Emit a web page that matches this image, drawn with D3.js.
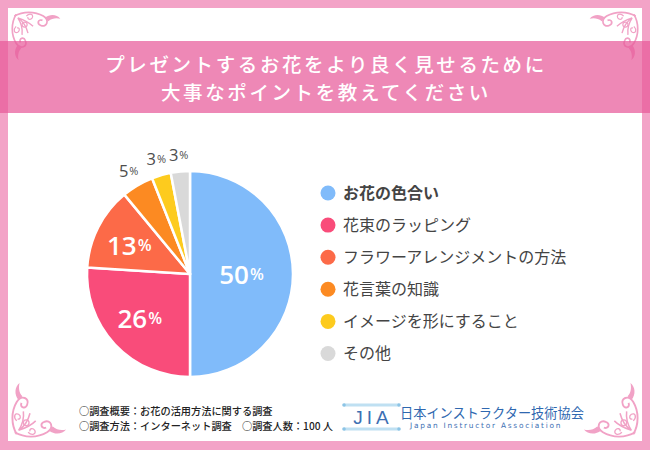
<!DOCTYPE html>
<html>
<head>
<meta charset="utf-8">
<script src="https://cdn.jsdelivr.net/npm/d3@7"></script>
<style>
  html, body { margin: 0; padding: 0; background: #fff; }
  svg { display: block; }
</style>
</head>
<body>
<div id="chart"></div>
<script>
// data
const categories = ["お花の色合い", "花束のラッピング", "フラワーアレンジメントの方法", "花言葉の知識", "イメージを形にすること", "その他"];
const values = [50, 26, 13, 5, 3, 3];
const palette = ["#80bbfa", "#f94c7a", "#fc6a48", "#fc8a22", "#fdcb1e", "#d9d9d9"];
const titleLines = ["プレゼントするお花をより良く見せるために", "大事なポイントを教えてください"];
const notes = ["○調査概要：お花の活用方法に関する調査", "○調査方法：インターネット調査　○調査人数：100 人"];

const W = 650, H = 450;
const jp = "'Noto Sans CJK JP', 'Noto Sans', sans-serif";
const num = "'Open Sans', 'Noto Sans', sans-serif";

const svg = d3.select("#chart").append("svg")
	.attr("width", W)
	.attr("height", H);

// frame
svg.append("rect").attr("width", W).attr("height", H).attr("fill", "#f3a3c7");
svg.append("rect").attr("x", 8).attr("y", 8).attr("width", W - 16).attr("height", H - 17).attr("fill", "#fff");

// corner flourishes
function flourish(g) {
	let c = "#f1a2c6";
	g.append("path").attr("d", "M4,6 C14,0 28,0 38,6 C46,11 42,20 35,17 C30,15 32,9 37,11")
		.attr("fill", "none").attr("stroke", c).attr("stroke-width", 2);
	g.append("path").attr("d", "M6,4 C0,14 0,28 6,38 C11,46 20,42 17,35 C15,30 9,32 11,37")
		.attr("fill", "none").attr("stroke", c).attr("stroke-width", 2);
	g.append("path").attr("d", "M8,8 C14,12 18,18 20,26 M8,8 C12,14 14,20 13,28 M8,8 C14,10 20,12 26,18")
		.attr("fill", "none").attr("stroke", c).attr("stroke-width", 1.6);
	g.append("path").attr("d", "M18,6 C22,2 27,4 25,8 C23,11 19,10 20,7")
		.attr("fill", "none").attr("stroke", c).attr("stroke-width", 1.4);
	g.append("path").attr("d", "M6,18 C2,22 4,27 8,25 C11,23 10,19 7,20")
		.attr("fill", "none").attr("stroke", c).attr("stroke-width", 1.4);
	g.append("path").attr("d", "M40,8 C46,3 54,4 58,9 C54,8 48,8 44,12 Z").attr("fill", c);
	g.append("path").attr("d", "M8,40 C3,46 4,54 9,58 C8,54 8,48 12,44 Z").attr("fill", c);
	g.append("circle").attr("cx", 16).attr("cy", 16).attr("r", 3).attr("fill", "none").attr("stroke", c).attr("stroke-width", 1.4);
}
[
	{ x: 11, y: 11, sx: 1, sy: 1, k: 0.85 },
	{ x: W - 11, y: 11, sx: -1, sy: 1, k: 0.85 },
	{ x: 11, y: H - 12, sx: 1, sy: -1, k: 0.95 },
	{ x: W - 11, y: H - 12, sx: -1, sy: -1, k: 0.95 }
].forEach((o) => {
	flourish(svg.append("g").attr("transform", "translate(" + o.x + "," + o.y + ") scale(" + (o.sx * o.k) + "," + (o.sy * o.k) + ")"));
});

// title band
svg.append("rect").attr("x", 0).attr("y", 41).attr("width", W).attr("height", 72)
	.attr("fill", "#e75a9a").attr("opacity", 0.72);
svg.append("g").selectAll("text").data(titleLines).enter().append("text")
	.attr("x", W / 2 + 1)
	.attr("y", (d, i) => 72 + i * 28)
	.attr("text-anchor", "middle")
	.attr("fill", "#fff")
	.attr("font-family", jp)
	.attr("font-weight", 500)
	.attr("font-size", 19.5)
	.attr("letter-spacing", 2.6)
	.text((d) => d);

// pie
let cx = 190, cy = 274, R = 103;
let pie = d3.pie().sort(null).value((d) => d);
let arcs = pie(values);
let arc = d3.arc().innerRadius(0).outerRadius(R);

let gPie = svg.append("g").attr("transform", "translate(" + cx + "," + cy + ")");
gPie.selectAll("path").data(arcs).enter().append("path")
	.attr("d", arc)
	.attr("fill", (d, i) => palette[i])
	.attr("stroke", "#fff")
	.attr("stroke-width", 2.5)
	.attr("stroke-linejoin", "round");

// labels: big slices inside in white, small ones outside
let lab = gPie.selectAll(".lab").data(arcs).enter().append("text")
	.attr("class", "lab")
	.attr("transform", (d) => {
		let inside = d.data >= 10;
		let r = inside ? (d.data >= 40 ? R * 0.5 : R * 0.63) : R * 1.17;
		let a = (d.startAngle + d.endAngle) / 2;
		let dx = inside && d.data < 40 ? -3 : 0;
		return "translate(" + (Math.sin(a) * r + dx) + "," + (-Math.cos(a) * r) + ")";
	})
	.attr("text-anchor", "middle")
	.attr("dominant-baseline", "central")
	.attr("font-family", num)
	.attr("fill", (d) => d.data >= 10 ? "#fff" : "#4d4d4d")
	.attr("font-weight", (d) => d.data >= 10 ? 600 : 500);
lab.append("tspan")
	.attr("font-size", (d) => d.data >= 10 ? 26 : 16.5)
	.text((d) => d.data);
lab.append("tspan")
	.attr("font-size", (d) => d.data >= 10 ? 16 : 11)
	.attr("dx", 1)
	.text("%");

// legend
let legend = svg.append("g").attr("transform", "translate(328,193)");
let item = legend.selectAll("g").data(categories).enter().append("g")
	.attr("transform", (d, i) => "translate(0," + (i * 32.1) + ")");
item.append("circle").attr("r", 7.5).attr("fill", (d, i) => palette[i]);
item.append("text")
	.attr("x", 15)
	.attr("dy", "0.36em")
	.attr("font-family", jp)
	.attr("font-size", 16)
	.attr("font-weight", (d, i) => i === 0 ? 700 : 400)
	.attr("fill", "#444")
	.text((d) => d);

// survey notes
svg.append("g").selectAll("text").data(notes).enter().append("text")
	.attr("x", 79)
	.attr("y", (d, i) => 415 + i * 15)
	.attr("font-family", jp)
	.attr("font-size", 10.2)
	.attr("font-weight", 500)
	.attr("fill", "#222")
	.text((d) => d);

// JIA logo
let logo = svg.append("g");
[405, 429].forEach((y) => {
	logo.append("rect").attr("x", 344).attr("y", y - 1.5).attr("width", 55).attr("height", 3).attr("fill", "#bfe0f2");
	logo.append("circle").attr("cx", 344).attr("cy", y).attr("r", 1.8).attr("fill", "#8cc4e6");
	logo.append("circle").attr("cx", 399).attr("cy", y).attr("r", 1.8).attr("fill", "#8cc4e6");
});
logo.append("text").attr("x", 373).attr("y", 424).attr("text-anchor", "middle")
	.attr("font-family", "'Liberation Sans', sans-serif").attr("font-size", 19).attr("font-weight", 400)
	.attr("letter-spacing", 4).attr("fill", "#3d6fb3").text("JIA");
logo.append("text").attr("x", 400).attr("y", 418)
	.attr("font-family", jp).attr("font-size", 13.2).attr("fill", "#2f68b0").text("日本インストラクター技術協会");
logo.append("text").attr("x", 410).attr("y", 428)
	.attr("font-family", "'DejaVu Sans', sans-serif").attr("font-size", 7.4).attr("letter-spacing", 1.75)
	.attr("fill", "#3d6fb3").text("Japan  Instructor  Association");
</script>
</body>
</html>
